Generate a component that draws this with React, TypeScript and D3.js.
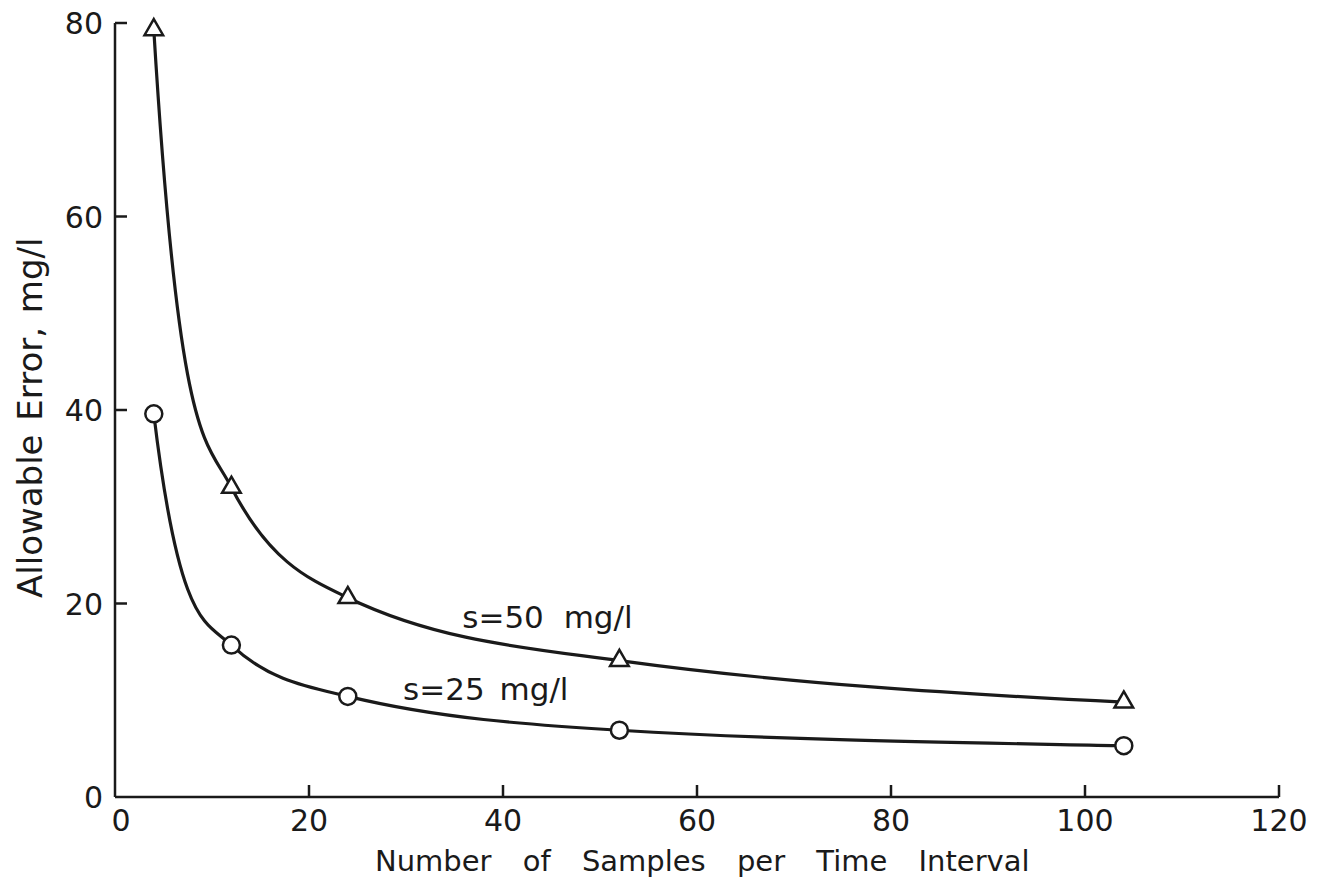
import React from "react";
import * as d3 from "d3";

// Number of samples per time interval
const samples = [4, 12, 24, 52, 104];
// Allowable error (mg/l) for each standard deviation
const errorS50 = [79.3, 32.0, 20.6, 14.1, 9.8];
const errorS25 = [39.6, 15.7, 10.4, 6.9, 5.3];

const xTicks = [0, 20, 40, 60, 80, 100, 120];
const yTicks = [0, 20, 40, 60, 80];

const WIDTH = 1322;
const HEIGHT = 883;
const margin = { left: 115, right: 43, top: 23, bottom: 86 };

const FONT = "'DejaVu Sans', 'Liberation Sans', sans-serif";

type Pt = [number, number];

// Smooth hand-drawn style curve: cubic Hermite segments whose tangents follow
// the local log-log slope, so the steep hyperbolic drop near the start is kept.
function smoothPath(
  pts: Pt[],
  x: d3.ScaleLinear<number, number>,
  y: d3.ScaleLinear<number, number>
): string {
  const n = pts.length;
  const b = (i: number, j: number) =>
    Math.log(pts[j][1] / pts[i][1]) / Math.log(pts[j][0] / pts[i][0]);
  const tangents = pts.map((p, i) => {
    let k: number;
    if (i === 0) k = b(0, 1);
    else if (i === n - 1) k = b(n - 2, n - 1);
    else k = (b(i - 1, i) + b(i, i + 1)) / 2;
    return (k * p[1]) / p[0];
  });
  const path = d3.path();
  path.moveTo(x(pts[0][0]), y(pts[0][1]));
  for (let i = 0; i < n - 1; i++) {
    const [x0, y0] = pts[i];
    const [x1, y1] = pts[i + 1];
    const h = (x1 - x0) / 3;
    path.bezierCurveTo(
      x(x0 + h),
      y(y0 + h * tangents[i]),
      x(x1 - h),
      y(y1 - h * tangents[i + 1]),
      x(x1),
      y(y1)
    );
  }
  return path.toString();
}

export default function App() {
  const x = d3
    .scaleLinear()
    .domain([0, 120])
    .range([margin.left, WIDTH - margin.right]);
  const y = d3
    .scaleLinear()
    .domain([0, 80])
    .range([HEIGHT - margin.bottom, margin.top]);

  const s50: Pt[] = samples.map((n, i) => [n, errorS50[i]]);
  const s25: Pt[] = samples.map((n, i) => [n, errorS25[i]]);

  const tri = d3.symbol().type(d3.symbolTriangle).size(150);
  const ink = "#1a1a1a";
  const x0 = x(0);
  const y0 = y(0);
  const tickLen = 12;

  return (
    <svg
      width={WIDTH}
      height={HEIGHT}
      style={{ position: "absolute", left: 0, top: 0, background: "#fff" }}
    >
      <rect width={WIDTH} height={HEIGHT} fill="#fff" />
      {/* axes */}
      <line x1={x0} y1={y0} x2={x(120)} y2={y0} stroke={ink} strokeWidth={2.5} />
      <line x1={x0} y1={y0} x2={x0} y2={y(80)} stroke={ink} strokeWidth={2.5} />
      {xTicks.slice(1).map((t) => (
        <line key={"xt" + t} x1={x(t)} x2={x(t)} y1={y0} y2={y0 - tickLen} stroke={ink} strokeWidth={2.5} />
      ))}
      {yTicks.slice(1).map((t) => (
        <line key={"yt" + t} x1={x0} x2={x0 + tickLen} y1={y(t)} y2={y(t)} stroke={ink} strokeWidth={2.5} />
      ))}
      {xTicks.map((t) => (
        <text
          key={"xl" + t}
          x={x(t) + (t === 0 ? 6 : 0)}
          y={y0 + 34}
          textAnchor="middle"
          fontFamily={FONT}
          fontSize={30}
          fill={ink}
        >
          {t}
        </text>
      ))}
      {yTicks.map((t) => (
        <text
          key={"yl" + t}
          x={x0 - 12}
          y={y(t) + 11}
          textAnchor="end"
          fontFamily={FONT}
          fontSize={30}
          fill={ink}
        >
          {t}
        </text>
      ))}
      {/* axis titles */}
      <text
        x={375}
        y={y0 + 74}
        fontFamily={FONT}
        fontSize={29}
        wordSpacing={22}
        fill={ink}
      >
        Number of Samples per Time Interval
      </text>
      <text
        transform={`translate(42, 598) rotate(-90)`}
        fontFamily={FONT}
        fontSize={34}
        wordSpacing={3}
        fill={ink}
      >
        Allowable Error, mg/l
      </text>
      {/* curves */}
      <path d={smoothPath(s50, x, y)} fill="none" stroke={ink} strokeWidth={3.2} />
      <path d={smoothPath(s25, x, y)} fill="none" stroke={ink} strokeWidth={3.2} />
      {s50.map((d, i) => (
        <path
          key={"t" + i}
          d={tri() || ""}
          transform={`translate(${x(d[0])}, ${y(d[1])})`}
          fill="#fff"
          stroke={ink}
          strokeWidth={2.5}
        />
      ))}
      {s25.map((d, i) => (
        <circle key={"c" + i} cx={x(d[0])} cy={y(d[1])} r={8.5} fill="#fff" stroke={ink} strokeWidth={2.5} />
      ))}
      {/* series labels */}
      <text x={x(35.8)} y={y(17.5)} fontFamily={FONT} fontSize={31} wordSpacing={10} fill={ink}>
        s=50 mg/l
      </text>
      <text x={x(29.7)} y={y(10.0)} fontFamily={FONT} fontSize={31} wordSpacing={5} fill={ink}>
        s=25 mg/l
      </text>
    </svg>
  );
}
